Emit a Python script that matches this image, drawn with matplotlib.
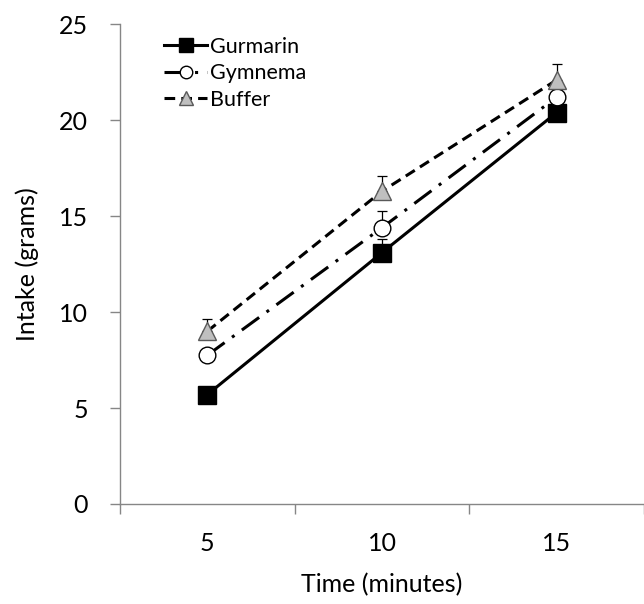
import matplotlib
matplotlib.use("Agg")
import matplotlib.pyplot as plt
import numpy as np

plt.rcParams['font.family'] = ['Lato', 'DejaVu Sans']

# data
times = ["5", "10", "15"]
gurmarin = [5.7, 13.1, 20.4]
gurmarin_err = [0.2, 0.7, 0.4]
gymnema = [7.75, 14.4, 21.2]
gymnema_err = [0.3, 0.85, 0.4]
buffer_ = [9.0, 16.3, 22.1]
buffer_err = [0.65, 0.8, 0.85]

x = np.arange(1, len(times) + 1)

fig = plt.figure(figsize=(6.44, 6.04), dpi=100)
ax = fig.add_axes([0.1863, 0.1656, 0.8137, 0.7942])

axis_gray = "#868686"

# error bars (upper only), drawn first so markers sit on top
for vals, errs in [(gurmarin, gurmarin_err), (gymnema, gymnema_err), (buffer_, buffer_err)]:
    ax.errorbar(x, vals, yerr=[np.zeros(len(errs)), errs], fmt='none',
                ecolor='black', elinewidth=0.9, capsize=3.5, capthick=0.9, zorder=2)

ax.plot(x, gurmarin, color='black', linestyle='-', linewidth=2.2,
        marker='s', markersize=13, markerfacecolor='black', markeredgecolor='black',
        label='Gurmarin', zorder=3)
ax.plot(x, gymnema, color='black', linestyle=(0, (7, 3, 1, 3)), linewidth=2.2,
        marker='o', markersize=12, markerfacecolor='white', markeredgecolor='black',
        markeredgewidth=1.0, label='Gymnema', zorder=3)
ax.plot(x, buffer_, color='black', linestyle=(0, (3.5, 2)), linewidth=2.2,
        marker='^', markersize=13, markerfacecolor='#bfbfbf', markeredgecolor='#595959',
        markeredgewidth=1.0, label='Buffer', zorder=3)

ax.set_xlim(0.5, 3.5)
ax.set_ylim(0, 25)
ax.set_yticks([0, 5, 10, 15, 20, 25])
ax.set_xticks(x)
ax.set_xticklabels(times)
ax.set_xticks([0.5, 1.5, 2.5, 3.5], minor=True)

ax.tick_params(axis='x', which='major', length=0, pad=20, labelsize=18)
ax.tick_params(axis='x', which='minor', length=7, width=1, color=axis_gray)
ax.tick_params(axis='y', length=7, width=1, color=axis_gray, pad=16, labelsize=18)

for side in ['top', 'right']:
    ax.spines[side].set_visible(False)
for side in ['left', 'bottom']:
    ax.spines[side].set_color(axis_gray)
    ax.spines[side].set_linewidth(1)

ax.set_xlabel("Time (minutes)", fontsize=18, labelpad=13)
ax.set_ylabel("Intake (grams)", fontsize=18, labelpad=14)

ax.legend(loc='upper left', bbox_to_anchor=(0.047, 1.014), frameon=False,
          fontsize=15.5, handlelength=2.0, handletextpad=0.12, labelspacing=0.3,
          markerscale=0.75)

fig.savefig("out.png", dpi=100)
